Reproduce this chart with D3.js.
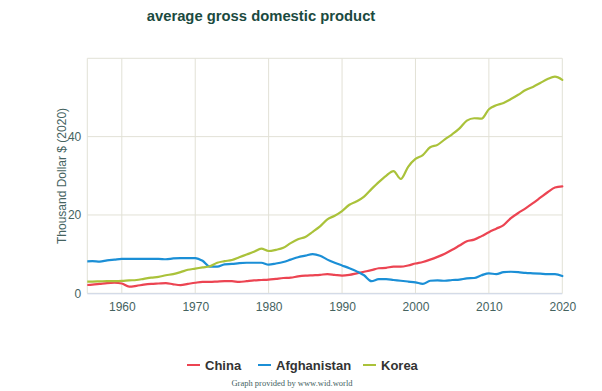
<!DOCTYPE html>
<html><head><meta charset="utf-8">
<script src="https://cdn.jsdelivr.net/npm/d3@7"></script>
<style>body{margin:0;background:#fff}svg{display:block}</style>
</head><body>
<svg id="c" width="602" height="391"></svg>
<script>
const years = d3.range(1955, 2021);
const china = [2.1,2.2,2.4,2.6,2.7,2.5,1.7,1.9,2.2,2.4,2.5,2.6,2.3,2.1,2.4,2.7,2.9,2.9,3.0,3.1,3.1,2.9,3.1,3.3,3.4,3.5,3.7,3.9,4.0,4.3,4.5,4.6,4.7,4.9,4.7,4.5,4.7,5.1,5.5,5.9,6.4,6.5,6.8,6.8,7.1,7.6,8.0,8.6,9.3,10.1,11.1,12.2,13.3,13.7,14.6,15.6,16.5,17.4,19.2,20.5,21.7,23.0,24.4,25.8,27.0,27.3];
const afghanistan = [8.1,8.2,8.1,8.4,8.6,8.8,8.8,8.8,8.8,8.8,8.8,8.7,8.9,9.0,9.0,9.0,8.3,6.8,6.8,7.4,7.5,7.7,7.8,7.8,7.8,7.3,7.6,8.0,8.6,9.2,9.6,10.0,9.6,8.6,7.8,7.1,6.4,5.6,4.6,3.1,3.6,3.6,3.4,3.2,3.0,2.8,2.4,3.2,3.3,3.2,3.4,3.5,3.8,3.9,4.6,5.1,4.9,5.4,5.5,5.4,5.2,5.1,5.0,4.9,4.9,4.4];
const korea = [3.0,3.0,3.05,3.1,3.1,3.15,3.3,3.4,3.7,4.0,4.2,4.6,4.9,5.4,6.0,6.3,6.6,6.9,7.8,8.2,8.5,9.2,9.9,10.6,11.4,10.8,11.1,11.6,12.8,13.8,14.4,15.7,17.1,18.9,19.8,21.0,22.6,23.5,24.7,26.6,28.4,30.0,31.2,29.2,32.3,34.3,35.3,37.3,37.9,39.3,40.6,42.1,44.1,44.7,44.6,47.0,48.0,48.6,49.6,50.7,51.9,52.7,53.7,54.7,55.3,54.5];
const seriesNames = ["China","Afghanistan","Korea"];
const seriesColors = ["#ec4452","#1b8fd6","#aac23a"];
const xTicks = [1960,1970,1980,1990,2000,2010,2020];
const yTicks = [0,20,40];
const yGrid = [0,20,40,60];

const svg = d3.select("#c");
const L = 87.3, R = 562.3, T = 58.3, B = 293.3;
const x = d3.scaleLinear().domain([1955.3, 2020]).range([L, R]);
const y = d3.scaleLinear().domain([0, 60]).range([B, T]);

svg.append("text").attr("x", 261).attr("y", 21).attr("text-anchor","middle")
  .attr("font-family","Liberation Sans, Arial, sans-serif").attr("font-weight","bold")
  .attr("font-size","14.8px").attr("fill","#1b4a40").text("average gross domestic product");

// grid
const g = svg.append("g");
g.selectAll(".hg").data(yGrid).join("line").attr("x1",L).attr("x2",R)
  .attr("y1",d=>y(d)).attr("y2",d=>y(d)).attr("stroke","#e2e1d6").attr("stroke-width",1);
g.selectAll(".vg").data(xTicks).join("line").attr("x1",d=>x(d)).attr("x2",d=>x(d))
  .attr("y1",T).attr("y2",B).attr("stroke","#e2e1d6").attr("stroke-width",1);
g.append("line").attr("x1",L).attr("x2",L).attr("y1",T).attr("y2",B).attr("stroke","#e2e1d6");
g.append("line").attr("x1",L).attr("x2",R).attr("y1",B+0.5).attr("y2",B+0.5).attr("stroke","#ccd6eb");

// axes
const xAxis = d3.axisBottom(x).tickValues(xTicks).tickFormat(d3.format("d")).tickSize(0).tickPadding(9);
const xa = svg.append("g").attr("transform",`translate(0,${B})`).call(xAxis);
xa.select(".domain").remove();
xa.selectAll("text").attr("font-family","Liberation Sans, Arial, sans-serif").attr("font-size","12px").attr("fill","#45635f");
const yAxis = d3.axisLeft(y).tickValues(yTicks).tickFormat(d3.format("d")).tickSize(0).tickPadding(6);
const ya = svg.append("g").attr("transform",`translate(${L},0)`).call(yAxis);
ya.select(".domain").remove();
ya.selectAll("text").attr("font-family","Liberation Sans, Arial, sans-serif").attr("font-size","12px").attr("fill","#45635f");

svg.append("text").attr("transform","translate(66,176) rotate(-90)").attr("text-anchor","middle")
  .attr("font-family","Liberation Sans, Arial, sans-serif").attr("font-size","12px").attr("fill","#45635f")
  .text("Thousand Dollar $ (2020)");

// lines
svg.append("clipPath").attr("id","clip").append("rect").attr("x",L).attr("y",T-5).attr("width",R-L+2).attr("height",B-T+10);
const data = [china, afghanistan, korea];
const line = d3.line().x((d,i)=>x(years[i])).y(d=>y(d)).curve(d3.curveMonotoneX);
svg.append("g").attr("clip-path","url(#clip)").selectAll("path").data(data).join("path")
  .attr("d", line).attr("fill","none").attr("stroke",(d,i)=>seriesColors[i]).attr("stroke-width",2.2)
  .attr("stroke-linejoin","round").attr("stroke-linecap","round");

// legend
const legX = [187, 258, 363];
const lg = svg.append("g");
seriesNames.forEach((n,i)=>{
  lg.append("line").attr("x1",legX[i]).attr("x2",legX[i]+13).attr("y1",365).attr("y2",365)
    .attr("stroke",seriesColors[i]).attr("stroke-width",2);
  lg.append("text").attr("x",legX[i]+18).attr("y",369.5).attr("font-family","Liberation Sans, Arial, sans-serif")
    .attr("font-size","13px").attr("font-weight","bold").attr("fill","#333").text(n);
});

svg.append("text").attr("x",292).attr("y",386).attr("text-anchor","middle")
  .attr("font-family","Liberation Serif, Times New Roman, serif").attr("font-size","8.5px").attr("fill","#45635f")
  .text("Graph provided by www.wid.world");
</script>
</body></html>
